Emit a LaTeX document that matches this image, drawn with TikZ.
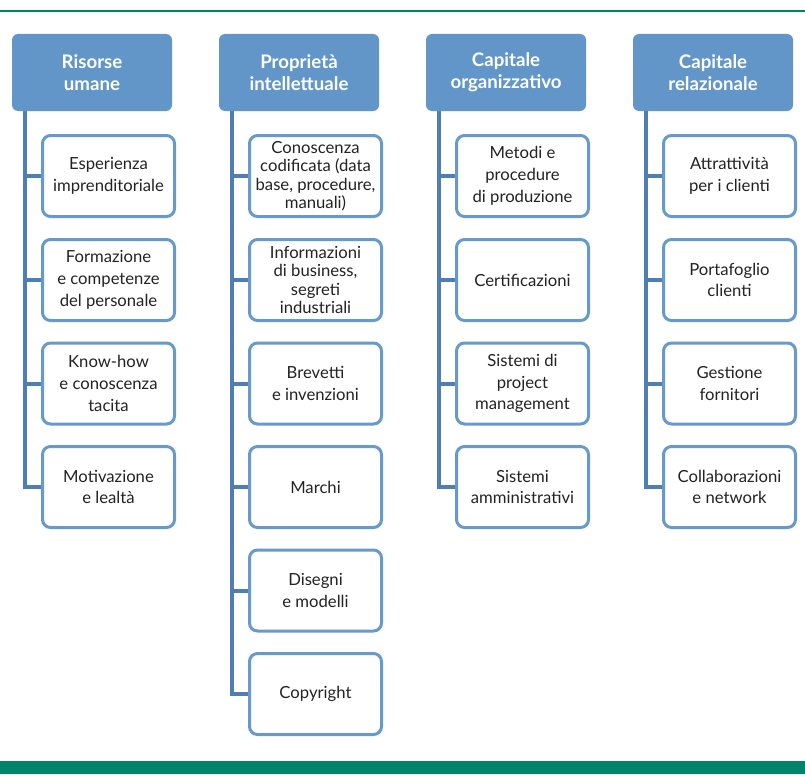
\documentclass[tikz,border=0pt]{standalone}
\usepackage{fontspec}
\setmainfont{Lato}
\usetikzlibrary{backgrounds}
\definecolor{headblue}{RGB}{98,150,201}
\definecolor{boxblue}{RGB}{102,153,204}
\definecolor{linkblue}{RGB}{79,125,181}
\definecolor{textgray}{RGB}{35,35,35}
\definecolor{bandgreen}{RGB}{0,132,106}
\begin{document}
\begin{tikzpicture}[x=0.75pt,y=-0.75pt,
  head/.style={rectangle, rounded corners=4.5pt, fill=headblue, minimum width=120pt, minimum height=57.75pt,
    text=white, font=\bfseries\fontsize{14}{16.3}\selectfont, align=center, inner sep=0pt},
  item/.style={rectangle, rounded corners=6pt, draw=boxblue, line width=2.25pt, fill=white,
    minimum width=99pt, minimum height=60.75pt, text=textgray,
    font=\fontsize{12.5}{16.3}\selectfont, align=center, inner sep=0pt},
  tight/.style={font=\fontsize{12.5}{13.8}\selectfont},
  link/.style={draw=linkblue, line width=3pt}]
\useasboundingbox (0,0) rectangle (805,774);

% headers
\node[head] (h1) at (92,72.5) {Risorse\\umane};
\node[head] (h2) at (299,72.5) {Proprietà\\intellettuale};
\node[head] (h3) at (506,72.5) {Capitale\\organizzativo};
\node[head] (h4) at (713,72.5) {Capitale\\relazionale};

% column 1
\node[item] (a1) at (108.5,176) {Esperienza\\imprenditoriale};
\node[item] (a2) at (108.5,280) {Formazione\\e competenze\\del personale};
\node[item] (a3) at (108.5,383.5) {Know-how\\e conoscenza\\tacita};
\node[item] (a4) at (108.5,487) {Motivazione\\e lealtà};

% column 2
\node[item,tight] (b1) at (315.5,176) {Conoscenza\\codificata (data\\base, procedure,\\manuali)};
\node[item,tight] (b2) at (315.5,280) {Informazioni\\di business,\\segreti\\industriali};
\node[item] (b3) at (315.5,383.5) {Brevetti\\e invenzioni};
\node[item] (b4) at (315.5,487) {Marchi};
\node[item] (b5) at (315.5,590.5) {Disegni\\e modelli};
\node[item] (b6) at (315.5,694) {Copyright};

% column 3
\node[item] (c1) at (522.5,176) {Metodi e\\procedure\\di produzione};
\node[item] (c2) at (522.5,280) {Certificazioni};
\node[item] (c3) at (522.5,383.5) {Sistemi di\\project\\management};
\node[item] (c4) at (522.5,487) {Sistemi\\amministrativi};

% column 4
\node[item] (d1) at (729.5,176) {Attrattività\\per i clienti};
\node[item] (d2) at (729.5,280) {Portafoglio\\clienti};
\node[item] (d3) at (729.5,383.5) {Gestione\\fornitori};
\node[item] (d4) at (729.5,487) {Collaborazioni\\e network};

\begin{scope}[on background layer]
  \fill[white] (0,0) rectangle (805,774);
  \draw[bandgreen, line width=1.1pt] (0,11) -- (805,11);
  \fill[bandgreen] (0,761) rectangle (805,774);
  \foreach \c in {a1,a2,a3,a4} \draw[link] ([xshift=9.75pt]h1.south west) |- (\c.west);
  \foreach \c in {b1,b2,b3,b4,b5,b6} \draw[link] ([xshift=9.75pt]h2.south west) |- (\c.west);
  \foreach \c in {c1,c2,c3,c4} \draw[link] ([xshift=9.75pt]h3.south west) |- (\c.west);
  \foreach \c in {d1,d2,d3,d4} \draw[link] ([xshift=9.75pt]h4.south west) |- (\c.west);
\end{scope}
\end{tikzpicture}
\end{document}
